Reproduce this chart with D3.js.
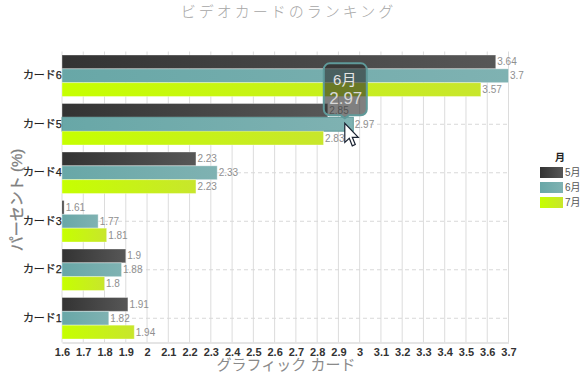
<!DOCTYPE html>
<html>
<head>
<meta charset="utf-8">
<script src="https://cdn.jsdelivr.net/npm/d3@7"></script>
<style>
  html, body { margin: 0; padding: 0; background: #fff; }
  text { font-family: "Liberation Sans", "Noto Sans CJK JP", sans-serif; }
</style>
</head>
<body>
<div id="chart"></div>
<script>
// Chart data
const categories = ['カード1', 'カード2', 'カード3', 'カード4', 'カード5', 'カード6'];
const months = ['5月', '6月', '7月'];
const may = [1.91, 1.9, 1.61, 2.23, 2.85, 3.64];
const june = [1.82, 1.88, 1.77, 2.33, 2.97, 3.7];
const july = [1.94, 1.8, 1.81, 2.23, 2.83, 3.57];
const xTicks = [1.6, 1.7, 1.8, 1.9, 2, 2.1, 2.2, 2.3, 2.4, 2.5, 2.6, 2.7, 2.8, 2.9, 3, 3.1, 3.2, 3.3, 3.4, 3.5, 3.6, 3.7];

const seriesValues = [may, june, july];
const colors = [['#333333', '#575757'], ['#68a7a7', '#7fb2b2'], ['#c6ff00', '#c8e62c']];

const width = 585;
const height = 376;
const margin = { top: 51.5, right: 76.5, bottom: 33.5, left: 62 };

const svg = d3.select('#chart').append('svg')
  .attr('width', width)
  .attr('height', height)
  .style('display', 'block');

// Gradients for bars and legend
const defs = svg.append('defs');
colors.forEach((c, i) => {
  const grad = defs.append('linearGradient').attr('id', `grad${i}`);
  grad.append('stop').attr('offset', '0%').attr('stop-color', c[0]);
  grad.append('stop').attr('offset', '100%').attr('stop-color', c[1]);
});

const x = d3.scaleLinear()
  .domain([1.6, 3.7])
  .range([margin.left, width - margin.right]);

const y = d3.scaleBand()
  .domain(categories.slice().reverse())
  .range([margin.top, height - margin.bottom]);

const inner = d3.scaleBand()
  .domain(d3.range(3))
  .range([3.5, y.bandwidth() - 3.5]);

// Vertical grid
svg.append('g').selectAll('line')
  .data(xTicks)
  .join('line')
  .attr('x1', d => x(d)).attr('x2', d => x(d))
  .attr('y1', margin.top).attr('y2', height - margin.bottom)
  .attr('stroke', '#dcdcdc')
  .attr('stroke-width', 1);

// Dashed horizontal grid
svg.append('g').selectAll('line')
  .data(categories)
  .join('line')
  .attr('x1', x(1.6)).attr('x2', x(3.7))
  .attr('y1', d => y(d) + y.bandwidth() / 2)
  .attr('y2', d => y(d) + y.bandwidth() / 2)
  .attr('stroke', '#d8d8d8')
  .attr('stroke-dasharray', '4,3');

// X axis
const xAxis = d3.axisBottom(x)
  .tickValues(xTicks)
  .tickFormat(d => String(d))
  .tickSize(0)
  .tickPadding(6);

const xG = svg.append('g')
  .attr('transform', `translate(0,${height - margin.bottom})`)
  .call(xAxis);
xG.select('.domain').attr('stroke', '#dcdcdc').attr('stroke-width', 1.5);
xG.selectAll('text')
  .attr('font-size', 11)
  .attr('font-weight', 'bold')
  .attr('fill', '#333');

// Y axis
const yAxis = d3.axisLeft(y).tickSize(0).tickPadding(0);
const yG = svg.append('g')
  .attr('transform', `translate(${margin.left},0)`)
  .call(yAxis);
yG.select('.domain').remove();
yG.selectAll('text')
  .attr('font-size', 11)
  .attr('fill', '#222')
  .attr('stroke', '#222')
  .attr('stroke-width', 0.25);

// Bars
seriesValues.forEach((values, s) => {
  const g = svg.append('g');
  g.selectAll('rect')
    .data(values)
    .join('rect')
    .attr('x', x(1.6))
    .attr('y', (d, i) => y(categories[i]) + inner(s))
    .attr('width', d => x(d) - x(1.6))
    .attr('height', inner.bandwidth())
    .attr('fill', `url(#grad${s})`)
    .attr('stroke', (d, i) => (s === 1 && i === 4) ? '#5f9a9a' : '#fff')
    .attr('stroke-opacity', (d, i) => (s === 1 && i === 4) ? 1 : 0.35)
    .attr('stroke-width', 1);

  g.selectAll('text')
    .data(values)
    .join('text')
    .attr('x', d => x(d) + 1.5)
    .attr('y', (d, i) => y(categories[i]) + inner(s) + inner.bandwidth() / 2)
    .attr('dy', '0.35em')
    .attr('font-size', 10)
    .attr('fill', '#8f8f8f')
    .text(d => d);
});

// Title and axis titles
svg.append('text')
  .attr('x', 288.5).attr('y', 17)
  .attr('text-anchor', 'middle')
  .attr('font-size', 15)
  .attr('letter-spacing', 3)
  .attr('font-weight', 300)
  .attr('fill', '#a6a6a6')
  .style('font-family', '"Noto Sans CJK JP", sans-serif')
  .text('ビデオカードのランキング');

svg.append('text')
  .attr('x', 286).attr('y', 370)
  .attr('text-anchor', 'middle')
  .attr('font-size', 15)
  .attr('fill', '#8a8a8a')
  .text('グラフィック カード');

svg.append('text')
  .attr('transform', 'translate(22,200) rotate(-90)')
  .attr('text-anchor', 'middle')
  .attr('font-size', 15)
  .attr('fill', '#808080')
  .attr('stroke', '#808080')
  .attr('stroke-width', 0.3)
  .text('パーセント (%)');

// Legend
svg.append('text')
  .attr('x', 560).attr('y', 161)
  .attr('text-anchor', 'middle')
  .attr('font-size', 10)
  .attr('font-weight', 'bold')
  .attr('fill', '#222')
  .text('月');

const legend = svg.append('g').selectAll('g')
  .data(months)
  .join('g')
  .attr('transform', (d, i) => `translate(540,${167 + i * 15})`);
legend.append('rect')
  .attr('width', 23).attr('height', 11)
  .attr('fill', (d, i) => `url(#grad${i})`);
legend.append('text')
  .attr('x', 25).attr('y', 5.5)
  .attr('dy', '0.35em')
  .attr('font-size', 10)
  .attr('fill', '#555')
  .text(d => d);

// Tooltip on the hovered bar (6月, カード5)
const hoverValue = june[4];
const hoverX = x(hoverValue) - 7.5;
const hoverY = y('カード5') + inner(1);
const tip = svg.append('g').attr('transform', `translate(${hoverX},${hoverY})`);
tip.append('path')
  .attr('d', 'M-16,-54 h31 a6,6 0 0 1 6,6 v40 a6,6 0 0 1 -6,6 h-12 l-4,3 l-4,-3 h-11 a6,6 0 0 1 -6,-6 v-40 a6,6 0 0 1 6,-6 z')
  .attr('fill', '#2b2b2b')
  .attr('fill-opacity', 0.6)
  .attr('stroke', '#5f9a9a')
  .attr('stroke-width', 2);
tip.append('text')
  .attr('x', -1).attr('y', -32)
  .attr('text-anchor', 'middle')
  .attr('font-size', 15)
  .attr('fill', '#e4e4e4')
  .text(months[1]);
tip.append('text')
  .attr('x', 0).attr('y', -13)
  .attr('text-anchor', 'middle')
  .attr('font-size', 17)
  .attr('fill', '#d8d8d8')
  .text(hoverValue);

// Mouse pointer
tip.append('path')
  .attr('d', 'M-1,6 v19 l4.5,-4 l3,7.5 l3,-1.3 l-3,-7.2 h6 z')
  .attr('fill', '#fff')
  .attr('stroke', '#1c2433')
  .attr('stroke-width', 1.2);
</script>
</body>
</html>
